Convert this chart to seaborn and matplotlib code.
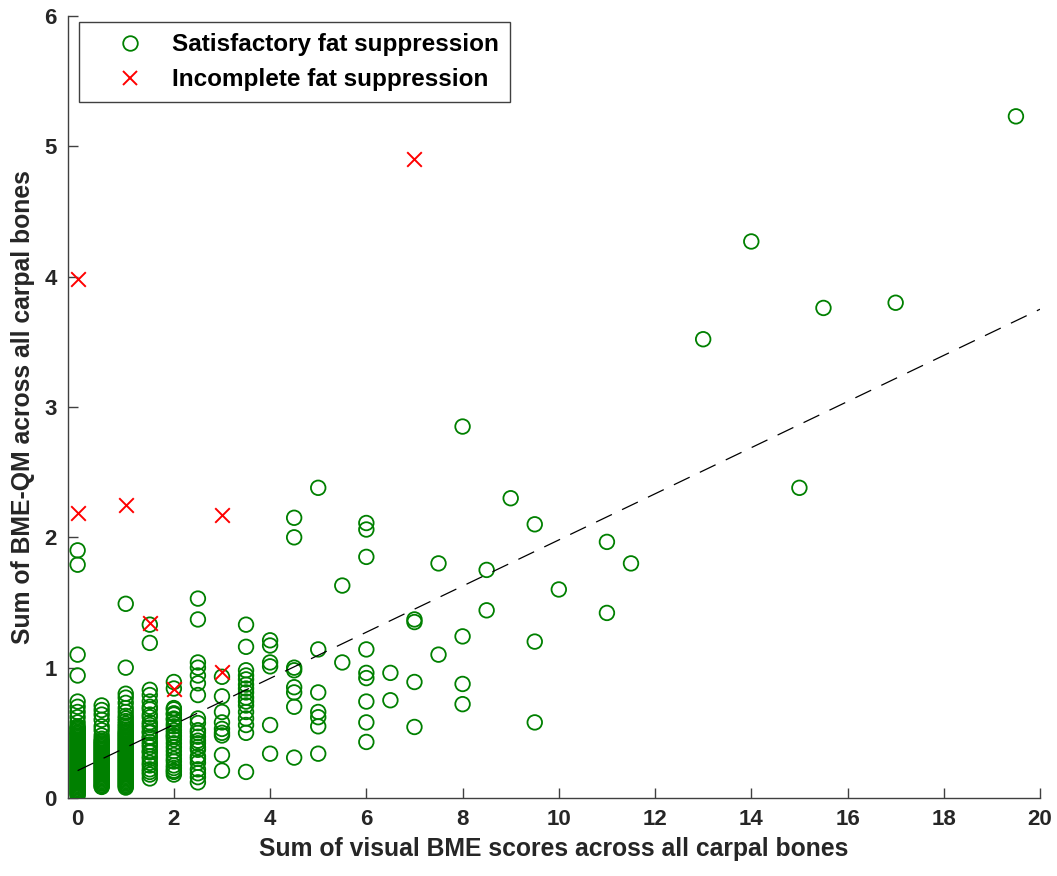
import numpy as np
import pandas as pd
import matplotlib
matplotlib.use("Agg")
import matplotlib.pyplot as plt
import seaborn as sns
from matplotlib.lines import Line2D

# visual BME score columns and the BME-QM values read at each column (satisfactory fat suppression)
sat_columns = [0, 0.5, 1, 1.5, 2, 2.5, 3, 3.5, 4, 4.5, 5, 5.5, 6, 6.5, 7, 7.5, 8, 8.5,
               9, 9.5, 10, 11, 11.5, 13, 14, 15, 15.5, 17, 19.5]
sat_values = [
    [1.90, 1.79, 1.10, 0.94, 0.74, 0.70, 0.66, 0.62, 0.58, 0.55, 0.54, 0.53, 0.52, 0.505,
     0.50, 0.49, 0.48, 0.47, 0.46, 0.45, 0.44, 0.43, 0.42, 0.41, 0.40, 0.39, 0.38, 0.37,
     0.36, 0.35, 0.34, 0.33, 0.32, 0.31, 0.30, 0.29, 0.28, 0.27, 0.26, 0.25, 0.24, 0.23,
     0.22, 0.21, 0.20, 0.19, 0.18, 0.17, 0.16, 0.15, 0.14, 0.13, 0.12, 0.11, 0.10, 0.09,
     0.08, 0.07, 0.06, 0.05, 0.04, 0.03, 0.02],
    [0.71, 0.675, 0.64, 0.60, 0.55, 0.52, 0.48, 0.455, 0.44, 0.43, 0.42, 0.41, 0.40, 0.39,
     0.38, 0.37, 0.36, 0.35, 0.34, 0.33, 0.32, 0.31, 0.30, 0.29, 0.28, 0.27, 0.26, 0.25,
     0.24, 0.23, 0.22, 0.21, 0.20, 0.19, 0.18, 0.17, 0.16, 0.15, 0.14, 0.13, 0.12, 0.11,
     0.10, 0.09, 0.085],
    [1.49, 1.00, 0.80, 0.77, 0.73, 0.69, 0.66, 0.63, 0.61, 0.59, 0.57, 0.555, 0.54, 0.525,
     0.51, 0.50, 0.49, 0.48, 0.47, 0.46, 0.45, 0.44, 0.43, 0.42, 0.41, 0.40, 0.39, 0.38,
     0.37, 0.36, 0.35, 0.34, 0.33, 0.32, 0.31, 0.30, 0.29, 0.28, 0.27, 0.26, 0.25, 0.24,
     0.23, 0.22, 0.21, 0.20, 0.19, 0.18, 0.17, 0.16, 0.15, 0.14, 0.13, 0.12, 0.11, 0.10,
     0.09, 0.08],
    [1.33, 1.19, 0.83, 0.79, 0.74, 0.70, 0.68, 0.64, 0.62, 0.58, 0.56, 0.54, 0.51, 0.50,
     0.47, 0.46, 0.43, 0.41, 0.39, 0.36, 0.35, 0.32, 0.30, 0.27, 0.25, 0.22, 0.20, 0.18,
     0.15],
    [0.89, 0.84, 0.69, 0.68, 0.65, 0.64, 0.61, 0.60, 0.57, 0.55, 0.52, 0.50, 0.48, 0.47,
     0.45, 0.42, 0.39, 0.36, 0.33, 0.30, 0.28, 0.25, 0.23, 0.21, 0.20, 0.18],
    [1.53, 1.37, 1.04, 1.00, 0.94, 0.88, 0.79, 0.61, 0.575, 0.52, 0.50, 0.47, 0.44, 0.42,
     0.39, 0.37, 0.32, 0.30, 0.27, 0.22, 0.19, 0.16, 0.12],
    [0.93, 0.78, 0.66, 0.58, 0.53, 0.50, 0.48, 0.33, 0.21],
    [1.33, 1.16, 0.98, 0.94, 0.91, 0.87, 0.84, 0.81, 0.77, 0.74, 0.71, 0.66, 0.61, 0.56,
     0.50, 0.20],
    [1.21, 1.17, 1.04, 1.01, 0.56, 0.34],
    [2.15, 2.00, 1.00, 0.98, 0.85, 0.81, 0.70, 0.31],
    [2.38, 1.14, 0.81, 0.66, 0.62, 0.55, 0.34],
    [1.63, 1.04],
    [2.11, 2.06, 1.85, 1.14, 0.96, 0.92, 0.74, 0.58, 0.43],
    [0.96, 0.75],
    [1.37, 1.35, 0.89, 0.545],
    [1.80, 1.10],
    [2.85, 1.24, 0.875, 0.72],
    [1.75, 1.44],
    [2.30],
    [2.10, 1.20, 0.58],
    [1.60],
    [1.965, 1.42],
    [1.80],
    [3.52],
    [4.27],
    [2.38],
    [3.76],
    [3.80],
    [5.23],
]

# incomplete fat suppression
inc_score = [0, 0, 1, 1.5, 2, 3, 3, 7]
inc_qm = [3.98, 2.19, 2.25, 1.34, 0.84, 2.17, 0.97, 4.90]

# linear fit (dashed line)
fit_score = [0, 20]
fit_qm = [0.21, 3.75]

sat = pd.DataFrame({
    "score": [c for c, vals in zip(sat_columns, sat_values) for _ in vals],
    "qm": [v for vals in sat_values for v in vals],
})
inc = pd.DataFrame({"score": inc_score, "qm": inc_qm})
fit = pd.DataFrame({"score": fit_score, "qm": fit_qm})

sns.set_style("ticks")
plt.rcParams["font.family"] = ["Liberation Sans", "DejaVu Sans"]
plt.rcParams["font.weight"] = "bold"

green = "#008000"
red = "#ff0000"
text_col = "#262626"

fig = plt.figure(figsize=(10.57, 8.76), dpi=100)
ax = fig.add_axes([68 / 1057, 1 - 798 / 876, 972 / 1057, 782 / 876])

sns.scatterplot(data=sat, x="score", y="qm", ax=ax, marker="o", s=110,
                facecolor="none", edgecolor=green, linewidth=1.3, zorder=3)
sns.scatterplot(data=inc, x="score", y="qm", ax=ax, marker="x", s=110,
                color=red, linewidth=1.4, zorder=4)
sns.lineplot(data=fit, x="score", y="qm", ax=ax, color="black", linewidth=0.9, zorder=5)
ax.lines[-1].set_dashes((14, 9))

ax.set_xlim(-0.2, 20)
ax.set_ylim(0, 6)
ax.set_xticks(range(0, 21, 2))
ax.set_yticks(range(0, 7))
sns.despine(ax=ax)
for side in ["left", "bottom"]:
    ax.spines[side].set_color("#404040")
    ax.spines[side].set_linewidth(1.0)
ax.tick_params(direction="in", length=7, width=1.0, color="#404040",
               labelsize=16, labelcolor=text_col, pad=8)
for lab in ax.get_xticklabels() + ax.get_yticklabels():
    lab.set_fontweight("bold")

ax.set_xlabel("Sum of visual BME scores across all carpal bones", fontsize=17.8,
              fontweight="bold", color=text_col, labelpad=5)
ax.set_ylabel("Sum of BME-QM across all carpal bones", fontsize=17.8,
              fontweight="bold", color=text_col, labelpad=7)

handles = [
    Line2D([], [], linestyle="none", marker="o", markersize=10.5, markerfacecolor="none",
           markeredgecolor=green, markeredgewidth=1.3),
    Line2D([], [], linestyle="none", marker="x", markersize=10.5, color=red,
           markeredgewidth=1.4),
]
leg = ax.legend(handles, ["Satisfactory fat suppression", "Incomplete fat suppression"],
                loc="upper left", bbox_to_anchor=(0.011, 0.992), borderaxespad=0,
                frameon=True, fancybox=False, framealpha=1, edgecolor="#404040",
                prop={"size": 17.5, "weight": "bold"}, handletextpad=0.08,
                borderpad=0.45, labelspacing=0.5, handlelength=3.3)
leg.get_frame().set_linewidth(1.0)
for t in leg.get_texts():
    t.set_color("black")

fig.savefig("out.png", dpi=100)
